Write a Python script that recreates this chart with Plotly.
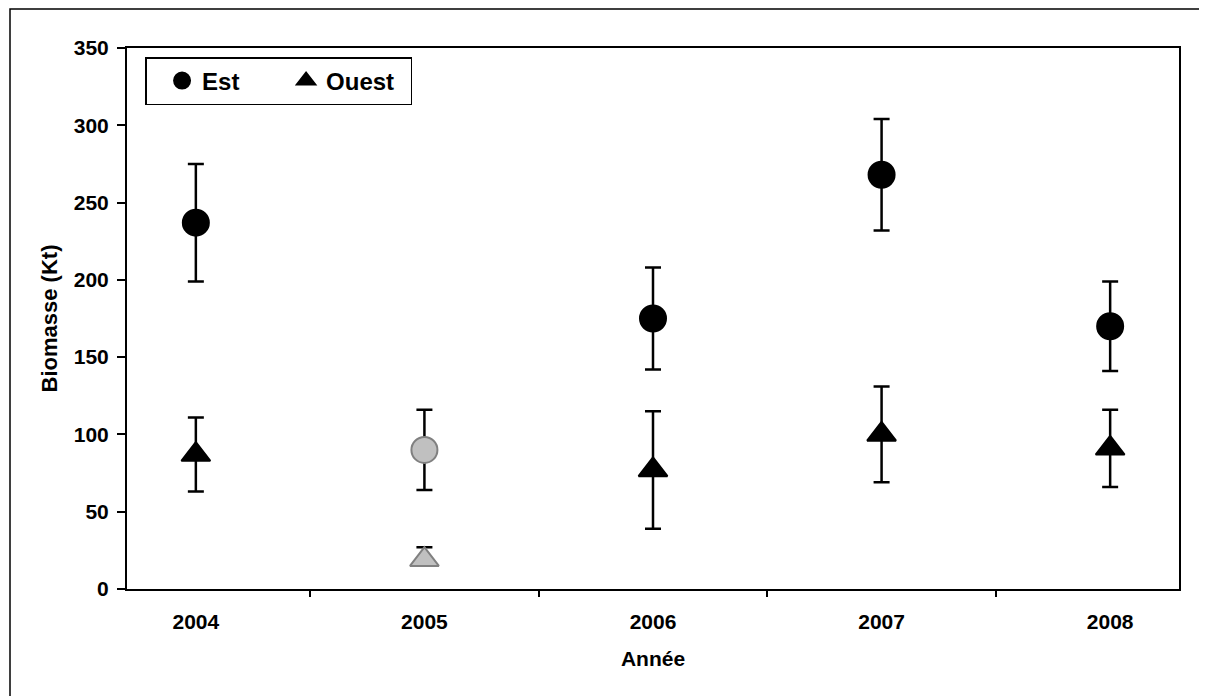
import plotly.graph_objects as go

years = ["2004", "2005", "2006", "2007", "2008"]
est_values = [237, 90, 175, 268, 170]
est_err = [38, 26, 33, 36, 29]
ouest_values = [87, 19, 77, 100, 91]
ouest_err_plus = [24, 8, 38, 31, 25]
ouest_err_minus = [24, 0, 38, 31, 25]
point_fill = ["black", "#c0c0c0", "black", "black", "black"]
point_line = ["black", "#808080", "black", "black", "black"]

FONT = "Liberation Sans, Arial, sans-serif"

# page has an 8px body margin; figure coordinates = page coordinates - 8
W, H = 1199, 688
L, R, T, B = 119, 1171, 40, 581

fig = go.Figure()
fig.add_trace(go.Scatter(
    x=years, y=est_values, mode="markers", name="Est",
    marker=dict(symbol="circle", size=26, color=point_fill,
                line=dict(color=point_line, width=2)),
    error_y=dict(type="data", array=est_err, visible=True,
                 color="black", thickness=2.5, width=8),
))
fig.add_trace(go.Scatter(
    x=years, y=ouest_values, mode="markers", name="Ouest",
    marker=dict(symbol="triangle-up", size=25, color=point_fill,
                line=dict(color=point_line, width=2)),
    error_y=dict(type="data", array=ouest_err_plus, arrayminus=ouest_err_minus,
                 symmetric=False, visible=True,
                 color="black", thickness=2.5, width=8),
))

pw, ph = R - L, B - T

fig.update_layout(
    width=W, height=H,
    margin=dict(l=L, r=W - R, t=T, b=H - B),
    paper_bgcolor="white", plot_bgcolor="white",
    font=dict(family=FONT, color="black"),
    showlegend=True,
    legend=dict(
        orientation="h", x=18 / pw, y=1 - 9 / ph, xanchor="left", yanchor="top",
        bgcolor="white", bordercolor="black", borderwidth=1.5,
        font=dict(family=FONT, size=24, color="black", weight="bold"),
        title=dict(text="\u00a0", side="left",
                   font=dict(family=FONT, size=20, color="black")),
        entrywidth=79, itemsizing="trace",
    ),
    xaxis=dict(
        type="category", tickson="boundaries", ticks="outside", ticklen=6,
        tickwidth=1.5, tickcolor="black",
        showline=True, linecolor="black", linewidth=2, mirror=True,
        showgrid=False, zeroline=False,
        tickfont=dict(family=FONT, size=21, color="black", weight="bold"),
        ticklabelstandoff=13,
        title=dict(text="Année", font=dict(family=FONT, size=21, color="black", weight="bold"),
                   standoff=19),
    ),
    yaxis=dict(
        range=[0, 350], dtick=50, ticks="outside", ticklen=8,
        tickwidth=1.5, tickcolor="black",
        showline=True, linecolor="black", linewidth=2, mirror=True,
        showgrid=False, zeroline=False,
        tickfont=dict(family=FONT, size=21, color="black", weight="bold"),
        ticklabelstandoff=4,
        title=dict(text="Biomasse (Kt)", font=dict(family=FONT, size=22, color="black", weight="bold"),
                   standoff=10),
    ),
    shapes=[dict(
        type="rect", xref="paper", yref="paper",
        x0=(2 - L) / pw, x1=(W + 6 - L) / pw,
        y0=(B - (H + 6)) / ph, y1=(B - 1) / ph,
        line=dict(color="black", width=1.5), fillcolor="rgba(0,0,0,0)", layer="below",
    )],
)

fig.write_html("out.html")
